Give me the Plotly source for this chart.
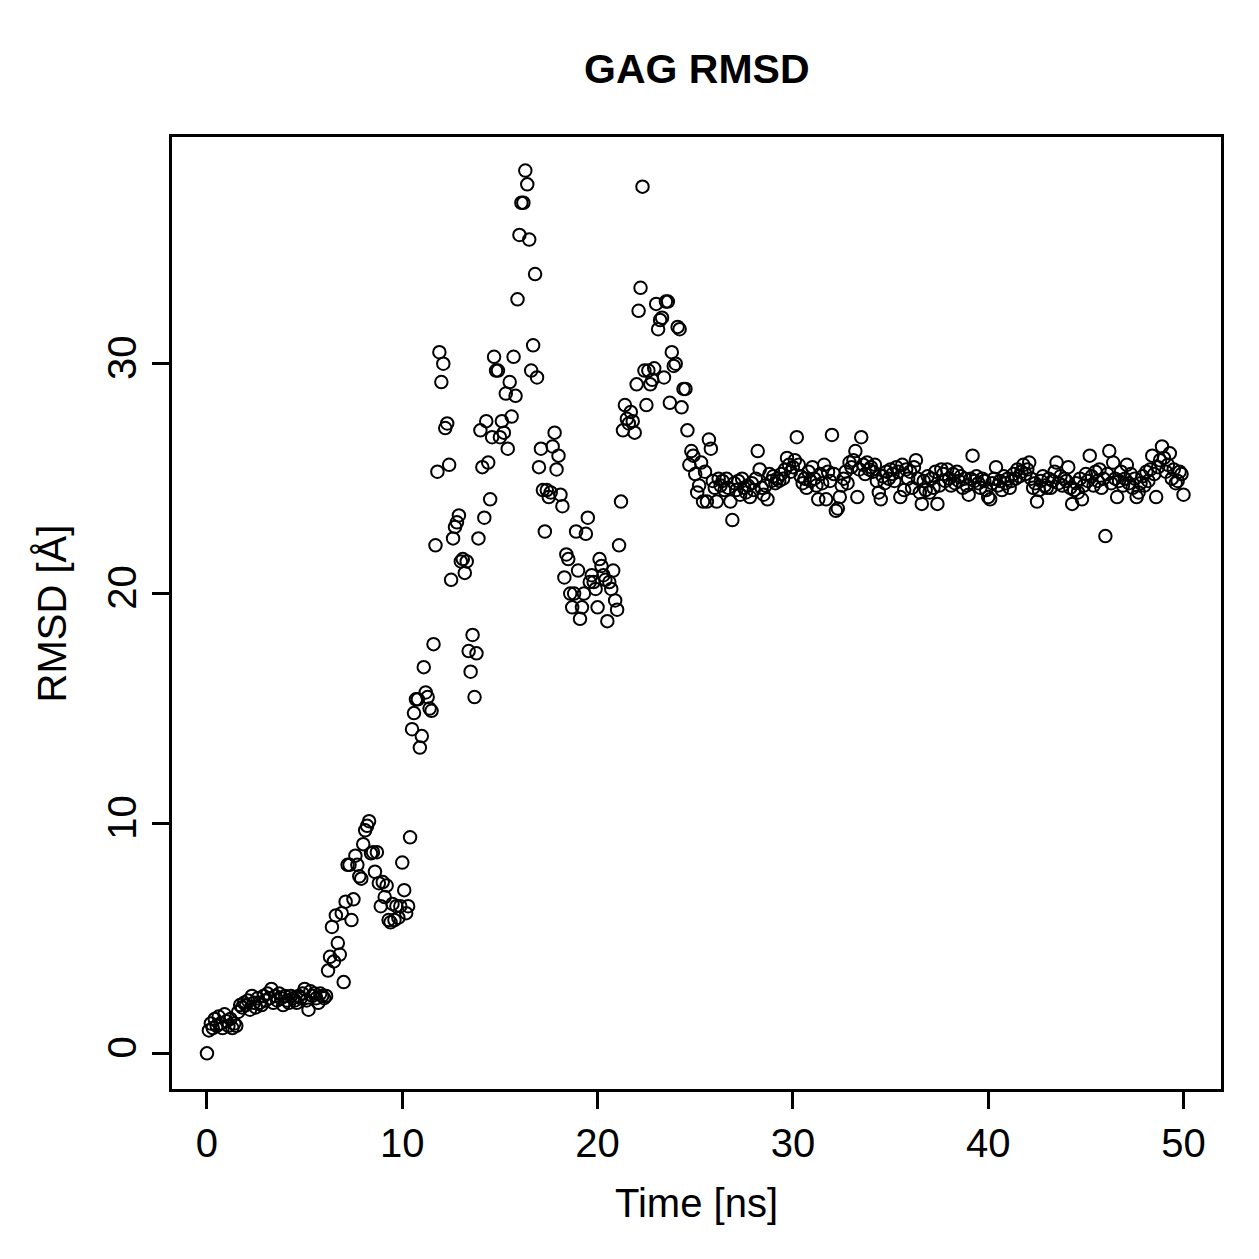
import plotly.graph_objects as go

# Sampling interval of the trajectory (ns per frame)
frame_interval_ns = 0.1

# RMSD values [Å], one per frame, 0.0 ns .. 50.0 ns (10 frames per ns)
rmsd = [
    # 0-1 ns
    0.0, 1.0, 1.3, 1.1, 1.5, 1.2, 1.6, 1.3, 1.1, 1.7,
    1.4, 1.2, 1.5, 1.1, 1.3, 1.2, 1.8, 2.1, 2.0, 2.2,
    2.1, 2.3, 1.9, 2.5, 2.2, 2.0, 2.4, 2.2, 2.1, 2.5,
    2.3, 2.6, 2.4, 2.8, 2.2, 2.5, 2.3, 2.6, 2.4, 2.1,
    2.5, 2.3, 2.2, 2.5, 2.4, 2.3, 2.2, 2.5, 2.4, 2.6,
    2.8, 2.3, 1.9, 2.7, 2.5, 2.6, 2.4, 2.2, 2.6, 2.5,
    # 6-10 ns
    2.4, 2.5, 3.6, 4.2, 5.5, 4.0, 6.0, 4.8, 4.3, 6.1,
    3.1, 6.6, 8.2, 8.2, 5.8, 6.7, 8.6, 8.2, 7.7, 7.6,
    9.1, 9.7, 9.9, 10.1, 8.7, 8.75, 7.9, 8.75, 7.4, 6.4,
    7.45, 6.8, 7.3, 5.8, 5.7, 6.5, 5.8, 6.4, 5.9, 6.4,
    # 10-14 ns
    8.3, 7.1, 6.1, 6.4, 9.4, 14.1, 14.8, 15.4, 15.4, 13.3,
    13.8, 16.8, 15.7, 15.5, 15.0, 14.9, 17.8, 22.1, 25.3, 30.5,
    29.2, 30.0, 27.2, 27.4, 25.6, 20.6, 22.4, 22.9, 23.1, 23.4,
    21.4, 21.5, 20.9, 21.4, 17.5, 16.6, 18.2, 15.5, 17.4, 22.4,
    # 14-18 ns
    27.1, 25.5, 23.3, 27.5, 25.7, 24.1, 26.8, 30.3, 29.7, 29.7,
    26.8, 27.5, 27.0, 28.7, 26.3, 29.2, 27.7, 30.3, 28.6, 32.8,
    35.6, 37.0, 37.0, 38.4, 37.8, 35.4, 29.7, 30.8, 33.9, 29.4,
    25.5, 26.3, 24.5, 22.7, 24.5, 24.2, 24.4, 26.4, 27.0, 25.4,
    # 18-22 ns
    26.0, 24.3, 23.8, 20.7, 21.7, 21.5, 20.0, 19.4, 20.0, 22.7,
    21.0, 18.9, 19.4, 20.0, 22.6, 23.3, 20.5, 20.8, 20.5, 20.2,
    19.4, 21.5, 21.2, 20.8, 20.6, 18.8, 20.5, 20.2, 21.0, 19.7,
    19.3, 22.1, 24.0, 27.1, 28.2, 27.6, 27.4, 27.9, 27.5, 27.0,
    # 22-26 ns
    29.1, 32.3, 33.3, 37.7, 29.7, 28.2, 29.7, 29.1, 29.3, 29.8,
    32.6, 31.5, 31.9, 32.0, 29.4, 32.7, 32.7, 28.3, 30.5, 29.9,
    30.0, 31.6, 31.5, 28.1, 28.9, 28.9, 27.1, 25.6, 26.2, 26.0,
    25.2, 24.4, 24.7, 25.7, 24.0, 25.3, 24.0, 26.7, 26.3, 24.9,
    # 26-30 ns
    24.6, 24.0, 25.0, 24.7, 24.9, 24.5, 25.0, 24.6, 24.0, 23.2,
    24.8, 24.5, 24.9, 24.3, 25.0, 24.6, 24.4, 24.7, 24.2, 24.8,
    24.5, 25.0, 26.2, 25.4, 24.6, 24.3, 24.7, 24.1, 25.2, 24.9,
    25.1, 24.8, 25.0, 24.9, 25.2, 25.0, 25.4, 25.9, 25.6, 25.3,
    # 30-34 ns
    25.5, 25.8, 26.8, 25.6, 25.1, 24.8, 25.0, 24.6, 25.3, 24.9,
    25.5, 25.0, 24.7, 24.1, 25.2, 24.8, 25.6, 24.1, 25.3, 24.9,
    26.9, 25.2, 23.6, 23.7, 24.2, 24.7, 25.0, 25.3, 24.8, 25.7,
    25.5, 25.8, 26.2, 24.2, 25.4, 26.8, 25.6, 25.2, 25.7, 25.4,
    # 34-38 ns
    25.5, 25.3, 25.6, 24.9, 24.4, 24.1, 25.1, 24.8, 25.3, 25.0,
    25.4, 25.2, 24.9, 25.5, 25.3, 24.2, 25.6, 24.5, 25.4, 25.0,
    25.3, 24.6, 25.5, 25.8, 25.0, 24.4, 23.9, 24.9, 24.5, 25.1,
    24.4, 25.0, 24.6, 25.3, 23.9, 24.7, 25.4, 25.2, 24.9, 25.4,
    # 38-42 ns
    25.0, 24.7, 25.2, 24.8, 25.3, 24.9, 25.1, 24.6, 25.0, 24.7,
    24.3, 25.0, 26.0, 24.9, 25.1, 24.8, 24.6, 25.0, 24.9, 24.5,
    24.2, 24.1, 24.8, 25.0, 25.5, 24.7, 24.9, 24.5, 25.1, 24.8,
    25.0, 24.6, 24.9, 25.2, 25.0, 25.4, 25.1, 25.3, 25.6, 25.2,
    # 42-46 ns
    25.4, 25.7, 25.0, 24.6, 24.8, 24.0, 24.5, 24.9, 25.1, 24.7,
    24.6, 25.0, 24.6, 24.9, 25.3, 25.7, 24.8, 25.1, 24.7, 25.0,
    24.9, 25.5, 24.6, 23.9, 24.5, 24.8, 24.4, 25.0, 24.1, 24.7,
    25.2, 24.9, 26.0, 25.1, 24.7, 25.3, 24.9, 25.4, 24.6, 25.0,
    # 46-50 ns
    22.5, 25.2, 26.2, 24.8, 25.7, 25.0, 24.2, 24.9, 25.3, 24.7,
    25.0, 25.6, 24.8, 25.2, 24.6, 25.0, 24.2, 24.4, 24.8, 25.1,
    24.7, 25.3, 24.9, 25.4, 26.0, 25.2, 24.2, 25.5, 25.8, 26.4,
    25.9, 25.3, 25.6, 26.1, 25.0, 25.4, 24.8, 24.9, 25.3, 25.2,
    24.3,
]

# Time of each frame [ns]
time_ns = [round(i * frame_interval_ns, 1) for i in range(len(rmsd))]

x_ticks = [0, 10, 20, 30, 40, 50]
y_ticks = [0, 10, 20, 30]

title_text = "GAG RMSD"
x_title = "Time [ns]"
y_title = "RMSD [Å]"

FONT = "Liberation Sans, Arial, Helvetica, sans-serif"

fig = go.Figure()
fig.add_trace(go.Scatter(
    x=time_ns, y=rmsd, mode="markers",
    marker=dict(symbol="circle-open", size=12.5, color="black",
                line=dict(color="black", width=2)),
    showlegend=False, hoverinfo="x+y",
))

fig.update_layout(
    width=1259, height=1259,
    margin=dict(l=172, r=38, t=137, b=170),
    paper_bgcolor="white", plot_bgcolor="white",
    font=dict(family=FONT, size=40, color="black"),
    showlegend=False,
    annotations=[
        dict(text="<b>" + title_text + "</b>", xref="paper", yref="paper",
             x=0.5, y=1.0714, showarrow=False, xanchor="center", yanchor="middle",
             font=dict(family=FONT, size=41, color="black")),
        dict(text=x_title, xref="paper", yref="paper",
             x=0.5, y=-0.1198, showarrow=False, xanchor="center", yanchor="middle",
             font=dict(family=FONT, size=40, color="black")),
        dict(text=y_title, xref="paper", yref="paper", textangle=-90,
             x=-0.114, y=0.5, showarrow=False, xanchor="center", yanchor="middle",
             font=dict(family=FONT, size=40, color="black")),
    ],
)

fig.update_xaxes(
    range=[-1.79, 51.92], tickvals=x_ticks, ticktext=[str(v) for v in x_ticks],
    showgrid=False, zeroline=False,
    showline=True, mirror=True, linecolor="black", linewidth=3,
    ticks="outside", ticklen=17, tickwidth=3, tickcolor="black",
    tickfont=dict(family=FONT, size=40, color="black"),
)
fig.update_yaxes(
    range=[-1.55, 39.86], tickvals=y_ticks, ticktext=[str(v) for v in y_ticks],
    showgrid=False, zeroline=False,
    showline=True, mirror=True, linecolor="black", linewidth=3,
    ticks="outside", ticklen=17, tickwidth=3, tickcolor="black",
    tickangle=-90,
    tickfont=dict(family=FONT, size=40, color="black"),
)

fig.write_html("out.html")
